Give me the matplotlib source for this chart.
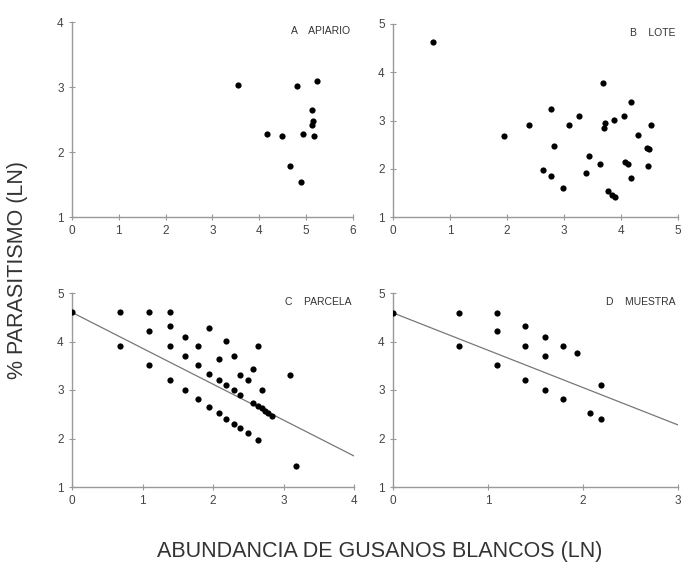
import numpy as np
import matplotlib.pyplot as plt

plt.rcParams['font.family'] = ['Liberation Sans', 'DejaVu Sans']

# A - apiario
xA = [3.54, 4.81, 5.24, 5.13, 5.14, 5.12, 4.16, 4.48, 4.93, 5.17, 4.66, 4.89]
yA = [3.03, 3.01, 3.09, 2.65, 2.48, 2.42, 2.27, 2.24, 2.27, 2.25, 1.78, 1.54]

# B - lote
xB = [0.70, 1.94, 2.39, 2.77, 2.82, 2.63, 2.77, 2.99, 3.08, 3.27, 3.44, 3.39, 3.63, 3.68, 3.72,
      3.70, 3.88, 3.77, 3.85, 3.89, 4.06, 4.18, 4.07, 4.13, 4.18, 4.30, 4.46, 4.49, 4.48, 4.53]
yB = [4.63, 2.67, 2.90, 3.24, 2.47, 1.98, 1.84, 1.61, 2.90, 3.10, 2.26, 1.91, 2.09, 3.77, 2.94,
      2.85, 3.01, 1.53, 1.46, 1.42, 3.10, 3.38, 2.14, 2.09, 1.80, 2.70, 2.44, 2.40, 2.06, 2.90]

# C - parcela
xC = [0.00, 0.68, 0.68, 1.09, 1.09, 1.09, 1.39, 1.39, 1.39, 1.39, 1.60, 1.60, 1.60, 1.79, 1.79,
      1.79, 1.95, 1.95, 1.95, 2.08, 2.08, 2.08, 2.19, 2.19, 2.19, 2.30, 2.30, 2.30, 2.39, 2.39,
      2.39, 2.49, 2.49, 2.57, 2.57, 2.64, 2.64, 2.64, 2.69, 2.74, 2.78, 2.83, 2.70, 3.09, 3.18]
yC = [4.60, 4.60, 3.91, 4.60, 4.21, 3.52, 4.60, 4.32, 3.91, 3.21, 4.10, 3.71, 2.99, 3.91, 3.52,
      2.81, 4.28, 3.34, 2.65, 3.63, 3.21, 2.52, 4.01, 3.10, 2.41, 3.71, 2.99, 2.30, 3.30, 2.89,
      2.21, 3.21, 2.12, 3.43, 2.74, 3.91, 2.66, 1.97, 2.62, 2.57, 2.52, 2.47, 2.99, 3.30, 1.43]
fitC = (4.60, -0.74)

# D - muestra
xD = [0.00, 0.69, 0.69, 1.09, 1.09, 1.09, 1.39, 1.39, 1.39, 1.60, 1.60, 1.60, 1.79, 1.79, 1.94,
      2.07, 2.19, 2.19]
yD = [4.59, 4.59, 3.91, 4.59, 4.21, 3.52, 4.32, 3.91, 3.21, 4.10, 3.70, 2.99, 3.91, 2.81, 3.77,
      2.52, 3.10, 2.40]
fitD = (4.59, -0.77)

W, H = 683, 563
fig = plt.figure(figsize=(W / 100, H / 100), dpi=100)


def make_ax(l, r, t, b):
    return fig.add_axes([l / W, 1 - b / H, (r - l) / W, (b - t) / H])


panels = [
    (make_ax(72, 353, 22, 217), xA, yA, None, (0, 6), (1, 4), "A    APIARIO"),
    (make_ax(393, 678, 24, 217), xB, yB, None, (0, 5), (1, 5), "B    LOTE"),
    (make_ax(72, 354, 293, 487), xC, yC, fitC, (0, 4), (1, 5), "C    PARCELA"),
    (make_ax(393, 678, 293, 487), xD, yD, fitD, (0, 3), (1, 5), "D    MUESTRA"),
]

for ax, x, y, fit, xl, yl, title in panels:
    ax.scatter(x, y, s=20, color="black", zorder=3, linewidths=0)
    if fit is not None:
        xs = np.array(xl, dtype=float)
        ax.plot(xs, fit[0] + fit[1] * xs, color="#777777", lw=0.9, zorder=2)
    ax.set_xlim(xl)
    ax.set_ylim(yl)
    ax.set_xticks(range(xl[0], xl[1] + 1))
    ax.set_yticks(range(yl[0], yl[1] + 1))
    for s in ["top", "right"]:
        ax.spines[s].set_visible(False)
    for s in ["left", "bottom"]:
        ax.spines[s].set_color("#999999")
        ax.spines[s].set_linewidth(1.0)
    ax.tick_params(direction="inout", length=4, width=0.8, color="#999999",
                   labelsize=8.5, labelcolor="#444444", pad=4)
    ax.text(0.99, 0.98, title, transform=ax.transAxes, ha="right", va="top",
            fontsize=7.5, color="#333333")

fig.text(18 / W, 1 - 270 / H, "% PARASITISMO (LN)", rotation=90, ha="center", va="center",
         fontsize=15.5, color="#333333")
fig.text(380 / W, 1 - 551 / H, "ABUNDANCIA DE GUSANOS BLANCOS (LN)", ha="center", va="center",
         fontsize=15.5, color="#333333")

fig.savefig("out.png", dpi=100)
